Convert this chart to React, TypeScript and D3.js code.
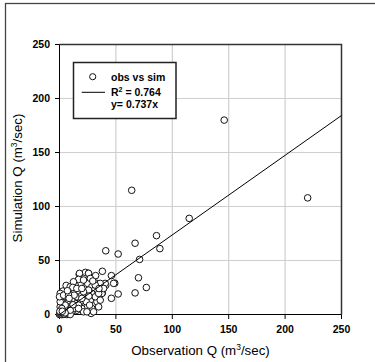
import * as d3 from "d3";

const obs = [
  146, 220, 64, 115, 86, 67, 89, 41, 52, 71, 70, 77, 67, 52, 46, 49, 46, 38, 41, 38,
  32, 28, 23, 17.5, 27, 33, 40.5, 48, 33, 25.7, 17.7,
  5.9, 3.0, 0.6, 2.4, 5.3, 9.5, 13.0, 17.2, 21.3, 24.9, 28.7, 31.1, 33.2, 30.8, 27.3,
  22.8, 18.4, 13.9, 10.1, 6.5, 3.6, 0.6, 2.1, 6.5, 11.0, 15.4, 19.8, 24.3, 28.7, 33.2,
  34.7, 28.7, 24.3, 19.8, 15.4, 11.0, 6.5, 3.0, 1.5, 0, 18.4, 13.9, 9.5, 16.9, 21.3,
  25.8, 12.4, 27.3, 36.1, 37.6, 39.1, 31.7, 25.8, 21.3, 13.0, 8.0, 5.0, 0.6, 0.6, 0,
  3.6, 8.0, 11.8, 15.4, 19.8, 23.7, 26.7, 30.2, 21.3, 16.9, 13.0, 19.8, 24.3, 31.7,
  34.7, 36.1, 9.5, 5.0, 2.1, 16.8, 9.5, 2.1,
  0.5, 1, 2, 3, 4, 1.5, 5, 0.3, 2.5, 7, 8.5, 12, 26, 29.5, 35,
];
const sim = [
  180, 108, 115, 89, 73, 66, 61, 59, 56, 51, 34, 25, 20, 19, 15, 29, 36, 40, 27, 20,
  36, 1, 39, 37, 33, 19.5, 28.8, 28.8, 28.8, 38.1, 38.1,
  26.9, 21.7, 19.5, 14.5, 16.4, 19.5, 22.6, 19.5, 25.7, 28.8, 25.7, 22.6, 16.4, 10.2, 13.3,
  14.9, 11.8, 10.2, 7.1, 4.0, 2.5, 0.9, 5.6, 10.2, 13.9, 16.4, 17.9, 17.9, 19.5, 11.8,
  7.1, 5.6, 7.1, 5.6, 4.0, 2.5, 0, 0, 0, 0, 28.8, 27.2, 25.7, 32.5, 31.9,
  38.1, 30.3, 33.4, 28.8, 19.5, 24.1, 27.2, 22.6, 21.0, 17.9, 13.3, 8.7, 7.1, 11.8, 16.4,
  17.9, 17.9, 25.1, 24.1, 24.1, 11.8, 8.7, 2.5, 2.5, 8.7, 5.6, 14.9, 2.5, 16.4,
  19.5, 13.3, 0, 0.9, 2.5, 5.6, 4, 5.6,
  0.5, 1.5, 0.3, 1, 0.5, 2, 1.5, 3, 3, 22, 15, 9, 17, 31, 24,
];
const slope = 0.737;
const xTicks = [0, 50, 100, 150, 200, 250];
const yTicks = [0, 50, 100, 150, 200, 250];
const legendLabels = ["obs vs sim", "R", " = 0.764", "y= 0.737x"];

const width = 375;
const height = 362;
const left = 59.5;
const right = 341.5;
const top = 44.5;
const bottom = 314.5;
const font = "'Liberation Sans', Arial, sans-serif";

export default function App() {
  const x = d3.scaleLinear().domain([0, 250]).range([left, right]);
  const y = d3.scaleLinear().domain([0, 250]).range([bottom, top]);
  const points = obs.map((o, i) => ({ o, s: sim[i] }));
  const fit = d3
    .line<number>()
    .x((d) => x(d))
    .y((d) => y(slope * d));

  return (
    <svg
      width={width}
      height={height}
      style={{ position: "absolute", left: 0, top: 0, background: "#fff" }}
      fontFamily={font}
    >
      {/* outer frame */}
      <rect x={5.5} y={3.5} width={420} height={420} fill="none" stroke="#444" strokeWidth={1.3} />

      {/* grid */}
      {xTicks.slice(1, -1).map((t) => (
        <line key={"gx" + t} x1={x(t)} x2={x(t)} y1={top} y2={bottom} stroke="#cfcfcf" strokeWidth={1.2} />
      ))}
      {yTicks.slice(1, -1).map((t) => (
        <line key={"gy" + t} x1={left} x2={right} y1={y(t)} y2={y(t)} stroke="#cfcfcf" strokeWidth={1.2} />
      ))}

      {/* plot frame */}
      <path d={`M${left},${top}H${right}V${bottom}`} fill="none" stroke="#333" strokeWidth={1.5} />
      <path d={`M${left},${top}V${bottom}H${right}`} fill="none" stroke="#000" strokeWidth={1} />

      {/* ticks */}
      {yTicks.map((t) => (
        <g key={"ty" + t}>
          <line x1={left - 4.5} x2={left} y1={y(t)} y2={y(t)} stroke="#000" />
          <text x={50} y={y(t) + 3.8} textAnchor="end" fontSize={10.5} fontWeight="bold">
            {t}
          </text>
        </g>
      ))}
      {xTicks.map((t) => (
        <g key={"tx" + t}>
          <line x1={x(t)} x2={x(t)} y1={bottom} y2={bottom + 4.5} stroke="#000" />
          <text x={x(t)} y={333} textAnchor="middle" fontSize={10.5} fontWeight="bold">
            {t}
          </text>
        </g>
      ))}

      {/* points */}
      {points.map((p, i) => (
        <circle key={i} cx={x(p.o)} cy={y(p.s)} r={3.3} fill="#fff" stroke="#111" strokeWidth={1} />
      ))}

      {/* fitted line */}
      <path d={fit([0, 250]) || ""} fill="none" stroke="#000" strokeWidth={1} />

      {/* legend */}
      <rect x={73.5} y={62.5} width={102.5} height={56} fill="#fff" stroke="#222" strokeWidth={1.5} />
      <circle cx={92.7} cy={76.7} r={3.1} fill="#fff" stroke="#111" strokeWidth={1} />
      <line x1={81.7} x2={105} y1={92.3} y2={92.3} stroke="#000" />
      <g fontSize={10.5} fontWeight="bold">
        <text x={111} y={80.5}>{legendLabels[0]}</text>
        <text x={111} y={95.5}>
          {legendLabels[1]}
          <tspan dy={-4} fontSize={7}>2</tspan>
          <tspan dy={4}>{legendLabels[2]}</tspan>
        </text>
        <text x={111} y={107.5}>{legendLabels[3]}</text>
      </g>

      {/* axis titles */}
      <text x={200.5} y={355} textAnchor="middle" fontSize={13.3}>
        Observation Q (m<tspan dy={-5} fontSize={8.5}>3</tspan>
        <tspan dy={5}>/sec)</tspan>
      </text>
      <text
        transform={`translate(21.5,178) rotate(-90)`}
        textAnchor="middle"
        fontSize={13.3}
      >
        Simulation Q (m<tspan dy={-5} fontSize={8.5}>3</tspan>
        <tspan dy={5}>/sec)</tspan>
      </text>
    </svg>
  );
}
